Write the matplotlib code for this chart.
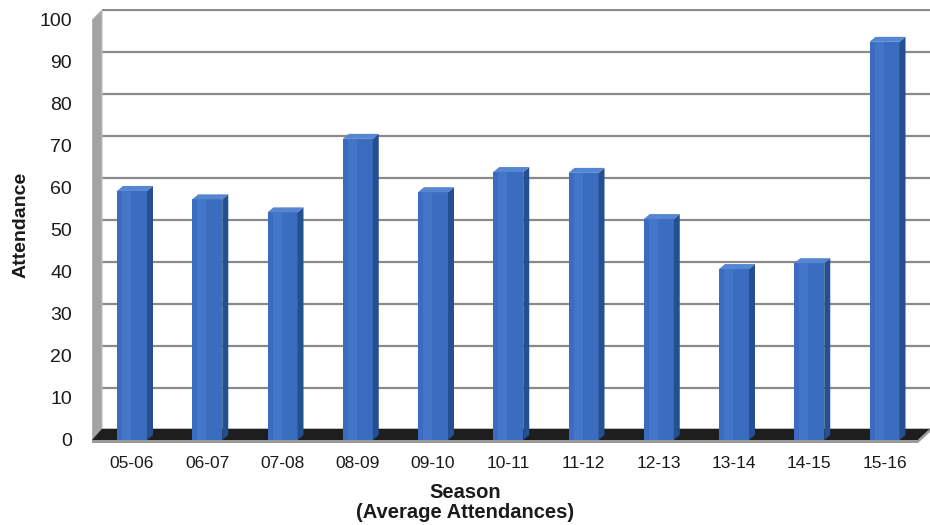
import matplotlib
matplotlib.use('Agg')
import matplotlib.pyplot as plt
from matplotlib.patches import Polygon
import numpy as np

plt.rcParams['font.family'] = ['Liberation Sans', 'DejaVu Sans']

seasons = ['05-06', '06-07', '07-08', '08-09', '09-10', '10-11',
           '11-12', '12-13', '13-14', '14-15', '15-16']
attendance = [59.3, 57.3, 54.2, 71.7, 59.0, 63.8, 63.6, 52.6, 40.7, 42.1, 94.8]
y_ticks = list(range(0, 101, 10))
x_title = 'Season'
x_subtitle = '(Average Attendances)'
y_title = 'Attendance'

W, H = 930, 525
fig = plt.figure(figsize=(W / 100, H / 100), dpi=100)
fig.patch.set_facecolor('white')

# pixel geometry of plot box
ax_l, ax_r, ax_t, ax_b = 92, 930, 9, 444
ax = fig.add_axes([ax_l / W, 1 - ax_b / H, (ax_r - ax_l) / W, (ax_b - ax_t) / H])

PX_Y = 4.2      # pixels per unit value
Y0 = 440        # pixel row of value 0 (front)
X0 = 132        # pixel column of first bar centre
STEP = 75.25    # pixels between bars

ax.set_ylim((Y0 - ax_b) / PX_Y, (Y0 - ax_t) / PX_Y)
ax.set_xlim((ax_l - X0) / STEP, (ax_r - X0) / STEP)

# depth offsets (back wall) in data units
DX = 10 / STEP
DY = 10 / PX_Y
# bar depth offsets
bdx = 6 / STEP
bdy = 5 / PX_Y
bw = 30 / STEP

xmin, xmax = ax.get_xlim()
xL = xmin

# back-wall gridlines
for v in y_ticks:
    ax.plot([xL + DX, xmax], [v + DY, v + DY], color='#8a8a8a', lw=1.6, zorder=1,
            solid_capstyle='butt')

# left wall
wall = Polygon([(xL, -0.3), (xL + DX, DY - 0.3), (xL + DX, 100 + DY), (xL, 100)],
               closed=True, facecolor='#a3a3a3', edgecolor='#bdbdbd', lw=0.8, zorder=2)
ax.add_patch(wall)

# floor
xRf = xmax - 12 / STEP
floor = Polygon([(xL, 0), (xRf, 0), (xmax, DY + 0.3), (xL + DX, DY + 0.3)],
                closed=True, facecolor='#1e1e1e', edgecolor='none', zorder=2)
ax.add_patch(floor)
# floor front edge
edge = Polygon([(xL, 0), (xRf, 0), (xRf, -0.7), (xL, -0.7)], closed=True,
               facecolor='#9a9a9a', edgecolor='none', zorder=2)
ax.add_patch(edge)
edge_r = Polygon([(xRf, 0), (xmax, DY + 0.3), (xmax, DY - 0.5), (xRf, -0.7)], closed=True,
                 facecolor='#9a9a9a', edgecolor='none', zorder=2)
ax.add_patch(edge_r)

# bars
xs = np.arange(len(seasons))
front_c = '#3a6cc0'
side_c = '#24508f'
top_c = '#5686d2'
ax.bar(xs, attendance, width=bw, color=front_c, zorder=4, linewidth=0)
for x, v in zip(xs, attendance):
    r = x + bw / 2
    l = x - bw / 2
    side = Polygon([(r, 0), (r + bdx, bdy), (r + bdx, v + bdy), (r, v)], closed=True,
                   facecolor=side_c, edgecolor='none', zorder=4)
    top = Polygon([(l, v), (r, v), (r + bdx, v + bdy), (l + bdx, v + bdy)], closed=True,
                  facecolor=top_c, edgecolor='none', zorder=4)
    ax.add_patch(side)
    ax.add_patch(top)
    # subtle highlight on front face
    ax.bar([x - bw * 0.18], [v], width=bw * 0.3, color='#4376c9', zorder=4.5, linewidth=0)

for s in ax.spines.values():
    s.set_visible(False)
ax.set_facecolor('white')
ax.set_yticks(y_ticks)
ax.set_yticklabels([str(t) for t in y_ticks], fontsize=14, color='#1a1a1a')
ax.set_xticks(xs)
ax.set_xticklabels(seasons, fontsize=12.5, color='#1a1a1a')
ax.tick_params(axis='y', length=0, pad=14.4)
ax.tick_params(axis='x', length=0, pad=9)

fig.text(465 / W, 1 - 492 / H, x_title, ha='center', va='center', fontsize=14.5,
         fontweight='bold', color='#1a1a1a')
fig.text(465 / W, 1 - 512 / H, x_subtitle, ha='center', va='center', fontsize=14.5,
         fontweight='bold', color='#1a1a1a')
fig.text(21 / W, 1 - 225 / H, y_title, ha='center', va='center', fontsize=14,
         fontweight='bold', rotation=90, color='#1a1a1a')

fig.savefig('out.png', dpi=100, facecolor='white')
